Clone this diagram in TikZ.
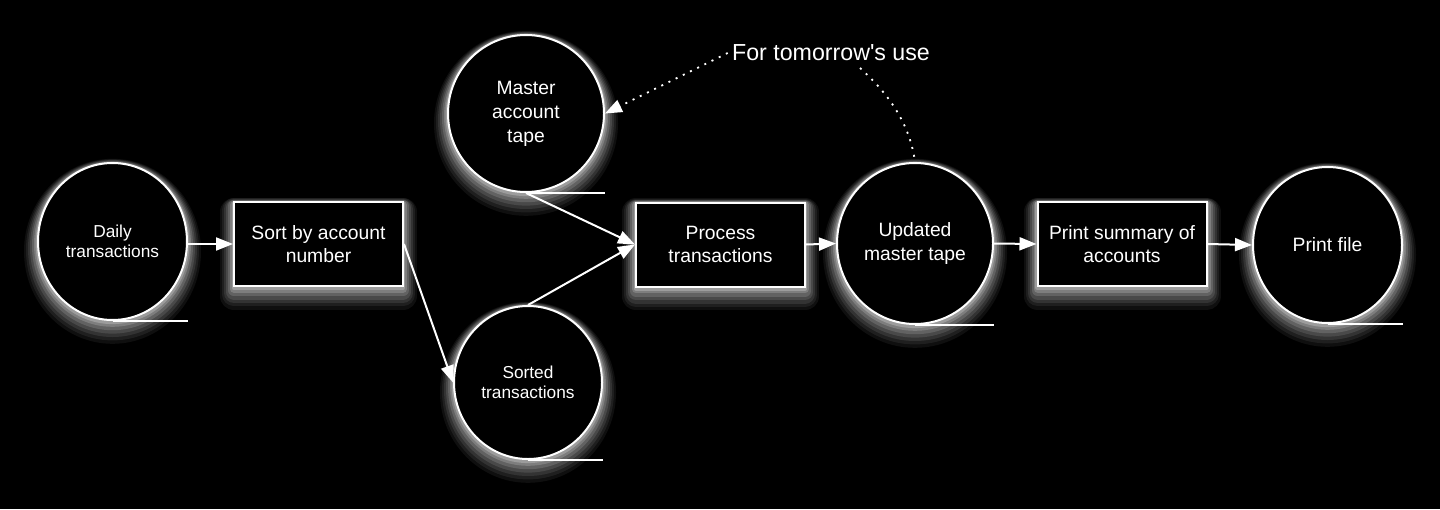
\documentclass[tikz,border=0pt]{standalone}
\usepackage{fontspec}
\setmainfont{Liberation Sans}
\usetikzlibrary{shapes.geometric,arrows.meta}
\tikzset{
  glw/.style 2 args={preaction={draw=white,draw opacity=#2,line width=#1,line join=round,
    transform canvas={yshift=-0.35*#1}}},
  glow/.style={glw={14pt}{0.06},glw={12pt}{0.07},glw={10pt}{0.09},glw={8pt}{0.11},
    glw={6pt}{0.14},glw={4pt}{0.18},glw={2.4pt}{0.24}},
  tape/.style={ellipse, draw=white, line width=1pt, fill=black, text=white, align=center,
    inner sep=0pt, glow, font=\fontsize{9.65pt}{12pt}\selectfont},
  smalltape/.style={tape, font=\fontsize{8.65pt}{10.3pt}\selectfont},
  proc/.style={rectangle, draw=white, line width=1pt, fill=black, text=white, align=center,
    inner sep=0pt, minimum width=84.5pt, minimum height=42pt, glow,
    font=\fontsize{9.65pt}{11.7pt}\selectfont},
  flow/.style={draw=white, line width=1pt, -{Triangle[length=8.5pt,width=6.5pt]}},
  tail/.style={draw=white, line width=0.9pt},
  dotline/.style={draw=white, line width=0.9pt, dash pattern=on 1pt off 3pt},
  lbl/.style={text=white, inner sep=2pt, font=\fontsize{11.6pt}{14pt}\selectfont},
}
\begin{document}
\begin{tikzpicture}[x=0.5pt,y=-0.5pt]
\fill[black] (0,0) rectangle (1440,509);
\useasboundingbox (0,0) rectangle (1440,509);

\node[smalltape, minimum width=74.5pt, minimum height=78.5pt] (dt) at (112.5,241.5) {Daily\\transactions};
\node[proc] (so) at (318.5,244) {Sort by account\\number};
\node[tape, minimum width=78pt, minimum height=78.5pt] (ma) at (526,113.5) {Master\\account\\tape};
\node[smalltape, minimum width=74pt, minimum height=76.5pt] (st) at (528,382.5) {Sorted\\transactions};
\node[proc] (pr) at (720.5,244.5) {Process\\transactions};
\node[tape, minimum width=78pt, minimum height=80.5pt] (up) at (915,243.5) {Updated\\master tape};
\node[proc] (ps) at (1122,244) {Print summary of\\accounts};
\node[tape, minimum width=74.5pt, minimum height=78pt] (pf) at (1327.5,245) {Print file};
\node[lbl] (tm) at (831,53) {For tomorrow\textquotesingle s use};
\coordinate (tmb) at (860,68);

% tape tails
\draw[tail] (dt.south) -- (dt.south -| dt.east);
\draw[tail] (ma.south) -- (ma.south -| ma.east);
\draw[tail] (st.south) -- (st.south -| st.east);
\draw[tail] (up.south) -- (up.south -| up.east);
\draw[tail] (pf.south) -- (pf.south -| pf.east);

% flows
\draw[flow] (so.west -| dt.east) -- (so.west);
\draw[flow] (so.east) -- (st.west);
\draw[flow] (ma.south) -- (pr.west);
\draw[flow] (st.north) -- (pr.west);
\draw[flow] (pr.east) -- (up.west);
\draw[flow] (up.east) -- (ps.west);
\draw[flow] (ps.east) -- (pf.west);

% dotted annotations
\draw[dotline, -{Triangle[length=8.5pt,width=6.5pt]}] (tm.west) -- (ma.east);
\draw[dotline] (tmb) .. controls (890,95) and (910,125) .. (up.north);
\end{tikzpicture}
\end{document}
